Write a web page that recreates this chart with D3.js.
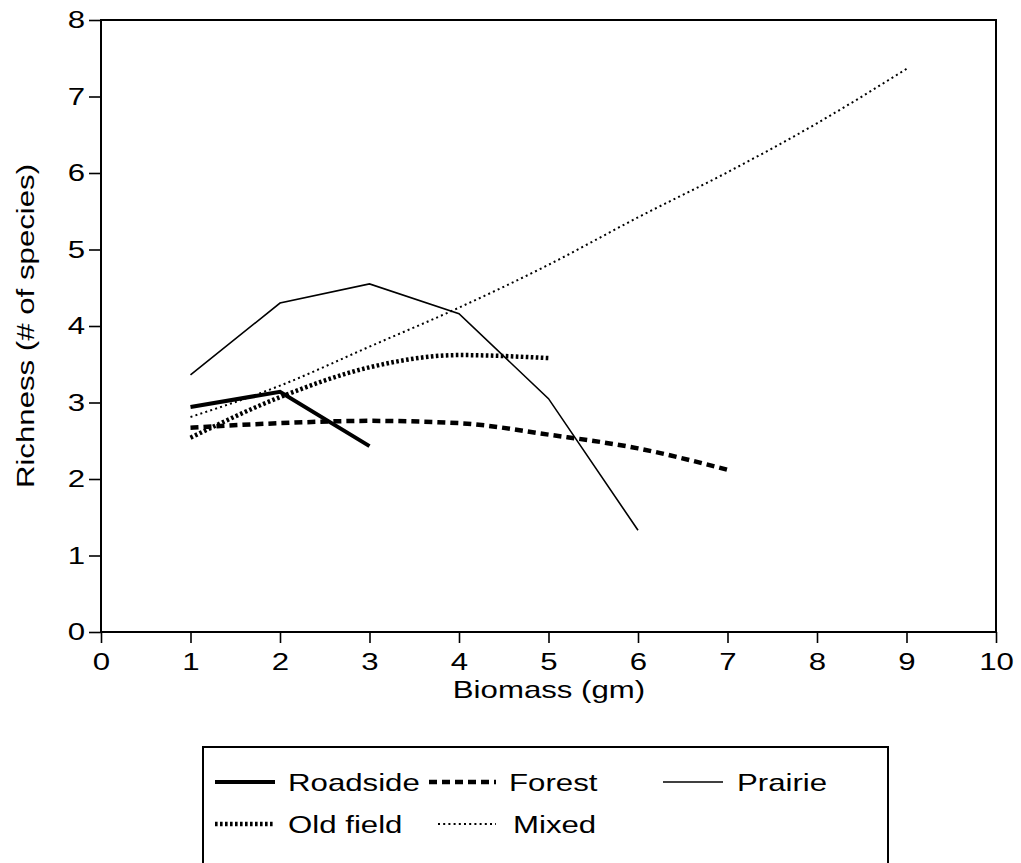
<!DOCTYPE html>
<html>
<head>
<meta charset="utf-8">
<script src="https://cdn.jsdelivr.net/npm/d3@7"></script>
<style>
  body { margin: 0; background: #fff; }
  text { font-family: "Liberation Sans", Arial, Helvetica, sans-serif; fill: #000; }
</style>
</head>
<body>
<svg id="chart" width="1021" height="863"></svg>
<script>
// richness (# of species), one value per biomass step starting at 1
var roadside = [2.94, 3.14, 2.43];
var forest   = [2.67, 2.73, 2.76, 2.73, 2.58, 2.40, 2.12];
var prairie  = [3.36, 4.30, 4.55, 4.16, 3.05, 1.33];
var oldField = [2.54, 3.07, 3.46, 3.62, 3.58];
var mixed    = [2.81, 3.22, 3.73, 4.24, 4.80, 5.42, 6.01, 6.65, 7.36];

var xTicks = [0, 1, 2, 3, 4, 5, 6, 7, 8, 9, 10];
var yTicks = [0, 1, 2, 3, 4, 5, 6, 7, 8];
var names  = ["Roadside", "Forest", "Prairie", "Old field", "Mixed"];

var FS = 24, SX = 1.3;   // the original lettering is wide, stretch it sideways

var svg = d3.select("#chart");
var x = d3.scaleLinear().domain([0, 10]).range([101, 996]),
    y = d3.scaleLinear().domain([0, 8]).range([632, 20]);

// line look for each series
var look = {
  "Roadside":  {w: 4,   dash: null,    curve: d3.curveLinear},
  "Forest":    {w: 4.5, dash: "8,5",   curve: d3.curveMonotoneX},
  "Prairie":   {w: 1.6, dash: null,    curve: d3.curveLinear},
  "Old field": {w: 4.5, dash: "2.6,2.4", curve: d3.curveMonotoneX},
  "Mixed":     {w: 2,   dash: "2,3.2", curve: d3.curveMonotoneX}
};
var values = {"Roadside": roadside, "Forest": forest, "Prairie": prairie, "Old field": oldField, "Mixed": mixed};

function stretch(sel) {
  sel.each(function() {
    var t = d3.select(this);
    var tx = +t.attr("x") || 0, ty = +t.attr("y") || 0;
    t.attr("transform", "translate(" + tx + "," + ty + ") scale(" + SX + ",1)")
     .attr("x", 0).attr("y", 0);
  });
}

// axes
var gx = svg.append("g")
    .attr("transform", "translate(0," + y(0) + ")")
    .call(d3.axisBottom(x).tickValues(xTicks).tickSize(11).tickPadding(10).tickSizeOuter(0));
var gy = svg.append("g")
    .attr("transform", "translate(" + x(0) + ",0)")
    .call(d3.axisLeft(y).tickValues(yTicks).tickSize(12).tickPadding(4).tickSizeOuter(0));
[gx, gy].forEach(function(g) {
  g.select(".domain").remove();
  g.selectAll("line").attr("stroke", "#000").attr("stroke-width", 1.6);
  g.selectAll("text").attr("font-size", FS).attr("font-family", null).call(stretch);
});

// plot frame
svg.append("rect")
    .attr("x", x(0)).attr("y", y(8))
    .attr("width", x(10) - x(0)).attr("height", y(0) - y(8))
    .attr("fill", "none").attr("stroke", "#000").attr("stroke-width", 2);

// series
names.forEach(function(n) {
  var s = look[n];
  var line = d3.line()
      .x(function(d, i) { return x(i + 1); })
      .y(function(d) { return y(d); })
      .curve(s.curve);
  svg.append("path")
      .datum(values[n])
      .attr("fill", "none")
      .attr("stroke", "#000")
      .attr("stroke-width", s.w)
      .attr("stroke-dasharray", s.dash)
      .attr("d", line);
});

// axis titles
svg.append("text")
    .attr("transform", "translate(549,698) scale(" + SX + ",1)")
    .attr("text-anchor", "middle").attr("font-size", FS)
    .text("Biomass (gm)");
svg.append("text")
    .attr("transform", "translate(34,326) rotate(-90) scale(" + SX + ",1)")
    .attr("text-anchor", "middle").attr("font-size", FS)
    .text("Richness (# of species)");

// legend
var legend = svg.append("g");
legend.append("rect")
    .attr("x", 203).attr("y", 747).attr("width", 685).attr("height", 140)
    .attr("fill", "none").attr("stroke", "#000").attr("stroke-width", 2);

var slots = {
  "Roadside":  {x1: 215, x2: 275, tx: 288, cy: 782},
  "Forest":    {x1: 429, x2: 496, tx: 509, cy: 782},
  "Prairie":   {x1: 663, x2: 723, tx: 737, cy: 782},
  "Old field": {x1: 215, x2: 275, tx: 288, cy: 824},
  "Mixed":     {x1: 438, x2: 496, tx: 513, cy: 824}
};
names.forEach(function(n) {
  var p = slots[n], s = look[n];
  legend.append("line")
      .attr("x1", p.x1).attr("x2", p.x2).attr("y1", p.cy).attr("y2", p.cy)
      .attr("stroke", "#000").attr("stroke-width", s.w)
      .attr("stroke-dasharray", s.dash);
  legend.append("text")
      .attr("transform", "translate(" + p.tx + "," + (p.cy + 8.5) + ") scale(" + SX + ",1)")
      .attr("font-size", FS)
      .text(n);
});
</script>
</body>
</html>
